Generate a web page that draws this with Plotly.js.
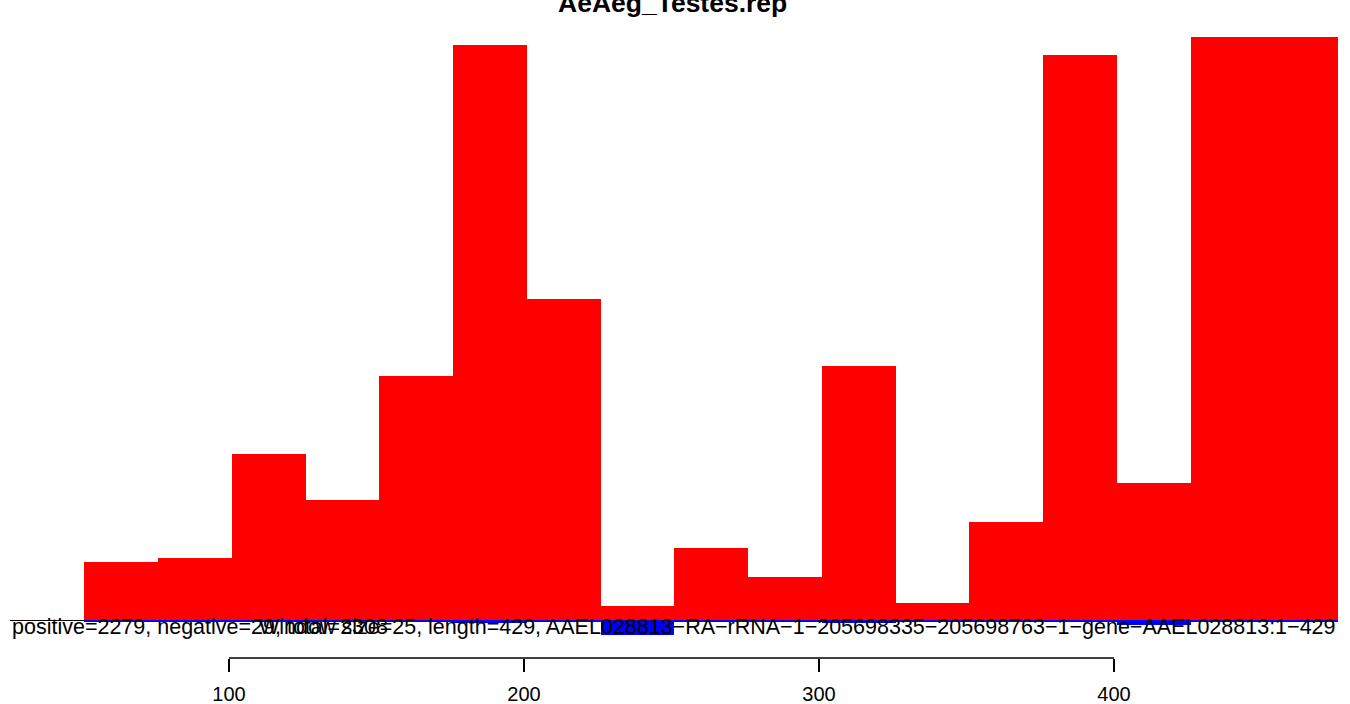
<!DOCTYPE html>
<html>
<head>
<meta charset="utf-8">
<script src="https://cdn.plot.ly/plotly-3.0.1.min.js"></script>
<style>html,body{margin:0;padding:0;background:#fff;}#chart{width:1350px;height:704px;}</style>
</head>
<body>
<div id="chart"></div>
<script>
// Window starts (window size 25)
const windowStarts = [51, 76, 101, 126, 151, 176, 201, 226, 251, 276, 301, 326, 351, 376, 401, 426, 451];
const windowSize = 25;
// Read counts per window
const positiveCounts = [34, 36, 97, 70, 142, 335, 187, 8, 42, 25, 148, 10, 57, 329, 80, 340, 340];
const negativeCounts = [1, 1, 1, 1, 1, 2, 1, 9, 1, 1, 2, 1, 1, 1, 3, 1, 1];
const tickValues = [100, 200, 300, 400];
const tickLabels = ['100', '200', '300', '400'];
const chartTitle = 'AeAeg_Testes.rep';
const leftNote = 'positive=2279, negative=29, total=2308';
const rightNote = 'Window size=25, length=429, AAEL028813\u2212RA\u2212rRNA\u22121\u2212205698335\u2212205698763\u22121\u2212gene\u2212AAEL028813:1\u2212429';

const xRange = [25.76, 475.93];
const yRange = [-11.655, 349.65];

const centers = windowStarts.map(s => s + windowSize / 2);

const traces = [
  {type: 'bar', x: centers, y: positiveCounts, width: windowSize,
   marker: {color: '#FF0000', line: {width: 0}}, hoverinfo: 'x+y', showlegend: false},
  {type: 'bar', x: centers, y: negativeCounts.map(v => -v), width: windowSize,
   marker: {color: '#0000FF', line: {width: 0}}, hoverinfo: 'x+y', showlegend: false}
];

const px = v => (v - xRange[0]) / (xRange[1] - xRange[0]);
const font = 'Liberation Sans, Arial, Helvetica, sans-serif';

const layout = {
  width: 1350, height: 704,
  margin: {l: 10, r: 12, t: 20, b: 46},
  paper_bgcolor: '#fff', plot_bgcolor: '#fff',
  barmode: 'relative', bargap: 0,
  font: {family: font, color: '#000'},
  xaxis: {
    range: xRange, anchor: 'free', position: 0,
    tickmode: 'array', tickvals: tickValues, ticktext: tickLabels,
    ticks: 'outside', ticklen: 13, tickwidth: 1.6, tickcolor: '#000',
    ticklabelstandoff: 5,
    showline: false, showgrid: false, zeroline: false,
    tickfont: {family: font, size: 20, color: '#000'}
  },
  yaxis: {
    range: yRange, domain: [18 / 638, 1],
    showticklabels: false, ticks: '', showgrid: false, showline: false,
    zeroline: true, zerolinecolor: '#000', zerolinewidth: 1
  },
  shapes: [
    {type: 'line', xref: 'paper', yref: 'paper',
     x0: px(tickValues[0]), x1: px(tickValues[tickValues.length - 1]), y0: 0, y1: 0,
     line: {color: '#000', width: 1.6}}
  ],
  annotations: [
    {text: '<b>' + chartTitle + '</b>', xref: 'paper', yref: 'paper',
     x: 0.4992, y: (658 - 11) / 638, xanchor: 'center', yanchor: 'middle', yshift: 8,
     showarrow: false, font: {family: font, size: 26.5, color: '#000'}},
    {text: leftNote, xref: 'paper', yref: 'paper', x: 0, y: (658 - 627) / 638,
     xanchor: 'left', yanchor: 'middle', showarrow: false,
     font: {family: font, size: 21.5, color: '#000'}},
    {text: rightNote, xref: 'paper', yref: 'paper', x: 1, y: (658 - 627) / 638,
     xanchor: 'right', yanchor: 'middle', showarrow: false,
     font: {family: font, size: 21.5, color: '#000'}}
  ]
};

Plotly.newPlot('chart', traces, layout, {displayModeBar: false, staticPlot: true});
</script>
</body>
</html>
